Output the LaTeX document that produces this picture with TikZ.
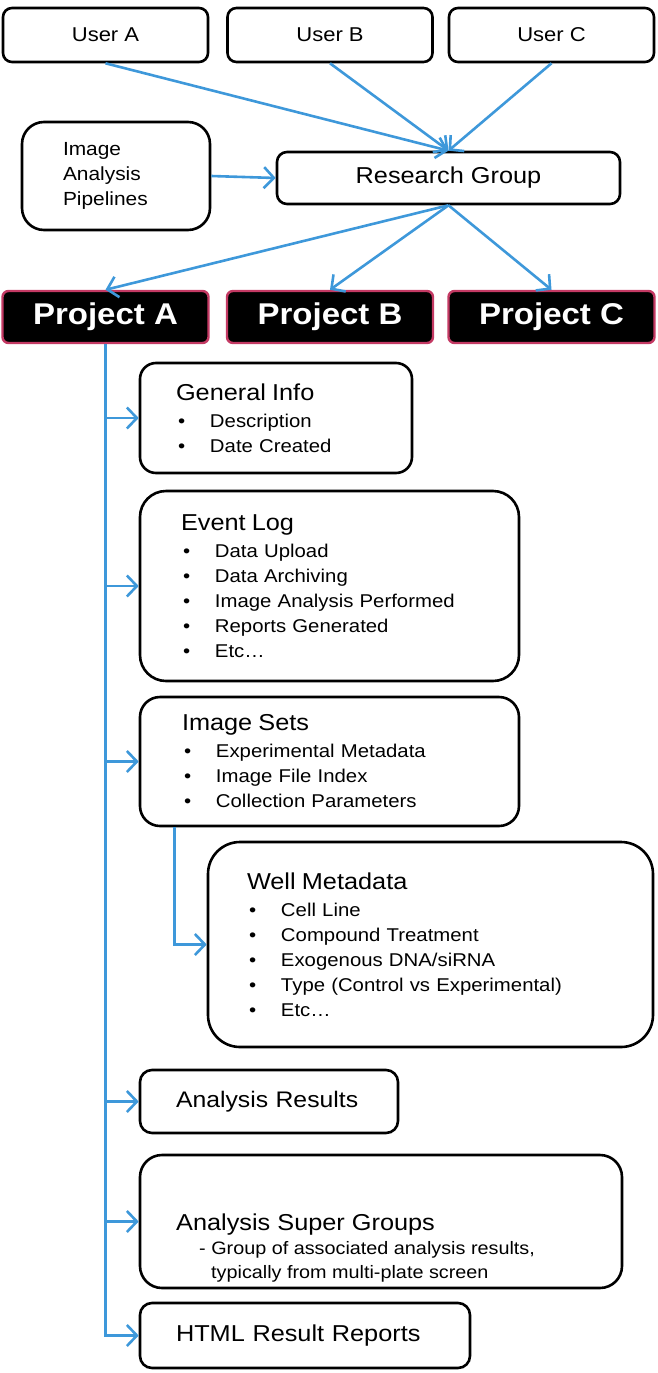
\documentclass[tikz,border=0pt]{standalone}
\usepackage{fontspec}
\setmainfont{Liberation Sans}[FakeStretch=1.1]
\usetikzlibrary{arrows.meta}

\definecolor{linkblue}{RGB}{62,152,218}
\definecolor{projrim}{RGB}{196,58,100}

\newcommand{\ttl}[1]{{\fontsize{23}{28}\selectfont #1}\\[2pt]}
\newcommand{\bul}[1]{\hspace*{2pt}\makebox[32pt][l]{\textbullet}#1}

\tikzset{
  box/.style={draw=black, line width=2.6pt, rounded corners=16pt, fill=white,
    align=left, inner xsep=36pt, font=\fontsize{18.5}{25}\selectfont},
  userbox/.style={draw=black, line width=2.6pt, rounded corners=9pt,
    minimum width=205, minimum height=54, font=\fontsize{20}{24}\selectfont},
  projbox/.style={draw=projrim, fill=black, text=white, line width=2.4pt,
    rounded corners=6pt, minimum width=206, minimum height=52,
    font=\fontsize{30}{36}\selectfont\bfseries},
  link/.style={draw=linkblue, line width=2.6pt,
    -{Straight Barb[length=10pt,width=21pt]}},
}

\begin{document}
\begin{tikzpicture}[x=1pt,y=1pt,yscale=-1]
\useasboundingbox (0,0) rectangle (658,1373);

% users
\node[userbox] (usera) at (105.5,35) {User A};
\node[userbox] (userb) at (330,35) {User B};
\node[userbox] (userc) at (551.5,35) {User C};

% group and pipelines
\node[box, rounded corners=22pt, minimum width=188, minimum height=108,
  text width=106, inner xsep=41pt, font=\fontsize{19}{25}\selectfont]
  (pipes) at (116,176) {Image\\ Analysis\\ Pipelines};
\node[box, rounded corners=10pt, minimum width=343, minimum height=52,
  align=center, font=\fontsize{23}{28}\selectfont] (group) at (448.5,178) {Research Group};

% projects
\node[projbox] (proja) at (105.5,317) {Project A};
\node[projbox] (projb) at (330,317) {Project B};
\node[projbox] (projc) at (551.5,317) {Project C};

% contents of project A
\node[box, minimum width=272, minimum height=110, text width=200] (info) at (276,418)
  {\ttl{General Info}\bul{Description}\\ \bul{Date Created}};
\node[box, rounded corners=26pt, minimum width=379, minimum height=190, text width=297,
  inner xsep=41pt] (events) at (329.5,586)
  {\ttl{Event Log}\bul{Data Upload}\\ \bul{Data Archiving}\\ \bul{Image Analysis Performed}\\
   \bul{Reports Generated}\\ \bul{Etc\dots}};
\node[box, rounded corners=20pt, minimum width=379, minimum height=129, text width=295,
  inner xsep=42pt] (imgsets) at (329.5,761.5)
  {\ttl{Image Sets}\bul{Experimental Metadata}\\ \bul{Image File Index}\\ \bul{Collection Parameters}};
\node[box, rounded corners=32pt, minimum width=445, minimum height=205, text width=367,
  inner xsep=39pt] (wells) at (430.5,944.5)
  {\ttl{Well Metadata}\bul{Cell Line}\\ \bul{Compound Treatment}\\ \bul{Exogenous DNA/siRNA}\\
   \bul{Type (Control vs Experimental)}\\ \bul{Etc\dots}};
\node[box, rounded corners=12pt, minimum width=258, minimum height=63, text width=186,
  font=\fontsize{22.5}{28}\selectfont] (results) at (269,1101.5) {\mbox{Analysis Results}};
\node[box, rounded corners=22pt, minimum width=482, minimum height=133] (supers) at (381,1221.5) {};
\node[align=left, anchor=west, inner sep=0pt, font=\fontsize{18}{24}\selectfont] (superstext) at (176,1248)
  {{\fontsize{23}{28}\selectfont Analysis Super Groups}\\
   \hspace*{23pt}- Group of associated analysis results,\\
   \hspace*{35pt}typically from multi-plate screen};
\node[box, rounded corners=12pt, minimum width=330, minimum height=65, text width=258,
  font=\fontsize{23}{28}\selectfont] (reports) at (305,1335.5) {\mbox{HTML Result Reports}};

% connectors
\draw[link] (usera.south) -- (group.north);
\draw[link] (userb.south) -- (group.north);
\draw[link] (userc.south) -- (group.north);
\draw[link] (pipes.east) -- (group.west);
\draw[link] (group.south) -- (proja.north);
\draw[link] (group.south) -- (projb.north);
\draw[link] (group.south) -- (projc.north);

\draw[link] (proja.south) |- (reports.west);
\draw[link] (proja.south |- info.west) -- (info.west);
\draw[link] (proja.south |- events.west) -- (events.west);
\draw[link] (proja.south |- imgsets.west) -- (imgsets.west);
\draw[link] (proja.south |- results.west) -- (results.west);
\draw[link] (proja.south |- supers.west) -- (supers.west);
\draw[link] ([xshift=36pt]imgsets.south west) |- (wells.west);

\end{tikzpicture}
\end{document}
